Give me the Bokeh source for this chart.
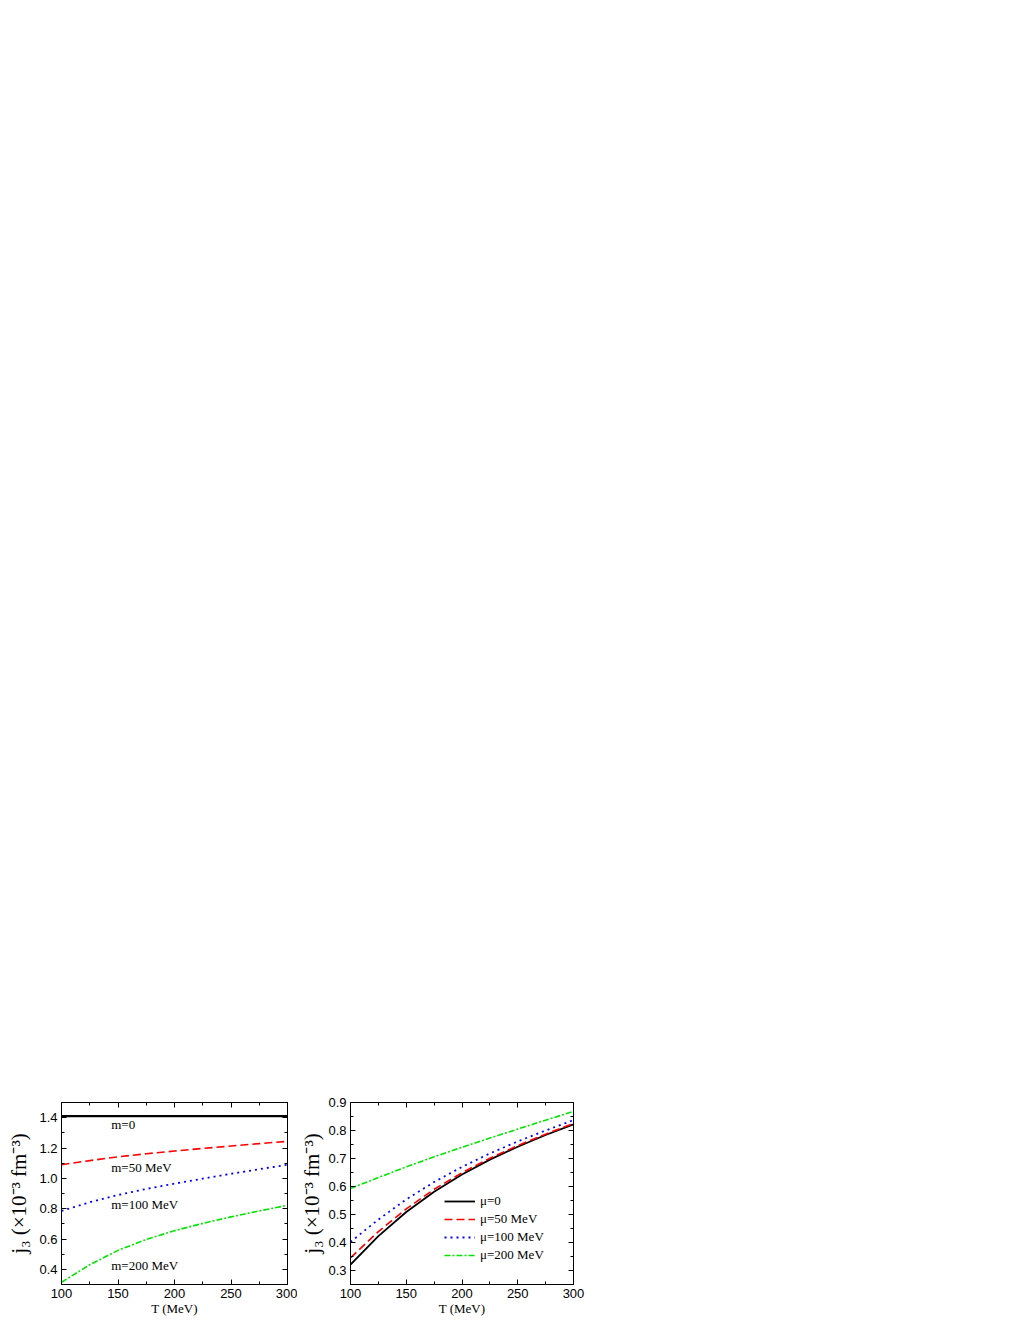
from bokeh.plotting import figure
from bokeh.models import (LinearAxis, SingleIntervalTicker, NumeralTickFormatter, Range1d,
                          Label, Legend, LegendItem, Spacer, CustomJSTickFormatter)
from bokeh.layouts import column, row
from bokeh.embed import file_html
from bokeh.resources import INLINE

# ---------------- data ----------------
T = [100, 125, 150, 175, 200, 225, 250, 275, 300]

# left panel: different masses
m_labels = ["m=0", "m=50 MeV", "m=100 MeV", "m=200 MeV"]
j3_m0 = [1.41, 1.41, 1.41, 1.41, 1.41, 1.41, 1.41, 1.41, 1.41]
j3_m50 = [1.09, 1.117, 1.142, 1.162, 1.18, 1.197, 1.213, 1.229, 1.244]
j3_m100 = [0.785, 0.842, 0.89, 0.93, 0.965, 0.998, 1.03, 1.06, 1.09]
j3_m200 = [0.315, 0.43, 0.525, 0.597, 0.655, 0.703, 0.746, 0.785, 0.822]

# right panel: different chemical potentials
mu_labels = ["\u03bc=0", "\u03bc=50 MeV", "\u03bc=100 MeV", "\u03bc=200 MeV"]
j3_mu0 = [0.321, 0.423, 0.509, 0.581, 0.643, 0.696, 0.742, 0.784, 0.822]
j3_mu50 = [0.345, 0.439, 0.52, 0.59, 0.649, 0.701, 0.746, 0.787, 0.825]
j3_mu100 = [0.402, 0.482, 0.554, 0.616, 0.67, 0.718, 0.761, 0.80, 0.837]
j3_mu200 = [0.593, 0.632, 0.67, 0.706, 0.74, 0.773, 0.805, 0.837, 0.868]

x_label = "T (MeV)"
y_label = "j\u2083 (\u00d710\u207b\u00b3 fm\u207b\u00b3)"

SANS = "Liberation Sans"
SERIF = "Liberation Serif"

STYLES = [
    dict(line_color="black", line_width=2.2, line_dash="solid"),
    dict(line_color="#ff0000", line_width=1.6, line_dash="8 4"),
    dict(line_color="#0000ff", line_width=1.8, line_dash="2 4"),
    dict(line_color="#00e600", line_width=1.6, line_dash="6 2 2 2"),
]


def style_axis(ax, show_labels):
    ax.axis_line_color = "black"
    ax.major_tick_line_color = "black"
    ax.minor_tick_line_color = "black"
    ax.major_tick_in = 5
    ax.major_tick_out = 0
    ax.minor_tick_in = 3
    ax.minor_tick_out = 0
    ax.major_label_text_font = SANS
    ax.major_label_text_font_size = "13px"
    ax.major_label_text_color = "black"
    if show_labels:
        ax.major_label_standoff = 4
    else:
        ax.major_label_standoff = 0
        ax.formatter = CustomJSTickFormatter(code="return ''")
        ax.major_label_text_font_size = "0px"


def make_panel(width, bl, br, y0, y1, y_int, ylab_standoff):
    p = figure(width=width, height=8 + 182 + 34,
               x_range=Range1d(100, 300), y_range=Range1d(y0, y1),
               x_axis_type=None, y_axis_type=None,
               output_backend="svg", toolbar_location=None,
               min_border_left=bl, min_border_right=br,
               min_border_top=8, min_border_bottom=34)
    p.xgrid.visible = False
    p.ygrid.visible = False
    p.outline_line_color = "black"
    p.outline_line_width = 1
    p.background_fill_color = "white"
    p.border_fill_color = "white"

    xt = lambda: SingleIntervalTicker(interval=50, num_minor_ticks=2)
    yt = lambda: SingleIntervalTicker(interval=y_int, num_minor_ticks=2)

    xb = LinearAxis(ticker=xt(), axis_label=x_label)
    style_axis(xb, True)
    xb.axis_label_text_font = SERIF
    xb.axis_label_text_font_size = "13px"
    xb.axis_label_text_font_style = "normal"
    xb.axis_label_text_color = "black"
    xb.axis_label_standoff = 0
    p.add_layout(xb, "below")

    yl = LinearAxis(ticker=yt(), axis_label=y_label,
                    formatter=NumeralTickFormatter(format="0.0"))
    style_axis(yl, True)
    yl.axis_label_text_font = SERIF
    yl.axis_label_text_font_size = "21px"
    yl.axis_label_text_font_style = "normal"
    yl.axis_label_text_color = "black"
    yl.axis_label_standoff = ylab_standoff
    p.add_layout(yl, "left")

    xa = LinearAxis(ticker=xt())
    style_axis(xa, False)
    p.add_layout(xa, "above")

    yr = LinearAxis(ticker=yt())
    style_axis(yr, False)
    p.add_layout(yr, "right")
    return p


# ---------------- left panel ----------------
p1 = make_panel(297, 61, 10, 0.3, 1.5, 0.2, 5)
left_series = [j3_m0, j3_m50, j3_m100, j3_m200]
for ys, st in zip(left_series, STYLES):
    p1.line(T, ys, **st)

ann_y = [1.354, 1.071, 0.828, 0.426]
for txt, yv in zip(m_labels, ann_y):
    p1.add_layout(Label(x=144, y=yv, text=txt, text_font=SERIF, text_font_size="13px",
                        text_color="black", text_baseline="middle", text_align="left"))

# ---------------- right panel ----------------
p2 = make_panel(291, 53, 15, 0.25, 0.9, 0.1, 1)
right_series = [j3_mu0, j3_mu50, j3_mu100, j3_mu200]
items = []
for ys, st, lab in zip(right_series, STYLES, mu_labels):
    st2 = dict(st)
    if st2["line_color"] == "black":
        st2["line_width"] = 1.8
    r = p2.line(T, ys, **st2)
    items.append(LegendItem(label=lab, renderers=[r]))

legend = Legend(items=items, location=(94, 20),
                label_text_font=SERIF, label_text_font_size="13px", label_text_color="black",
                glyph_width=31, glyph_height=18, label_height=18, spacing=0,
                padding=0, margin=0, label_standoff=5,
                border_line_color=None, background_fill_alpha=0)
p2.add_layout(legend)

layout = column(Spacer(height=1094, width=10), row(p1, p2))

open("out.html", "w").write(file_html(layout, INLINE))
